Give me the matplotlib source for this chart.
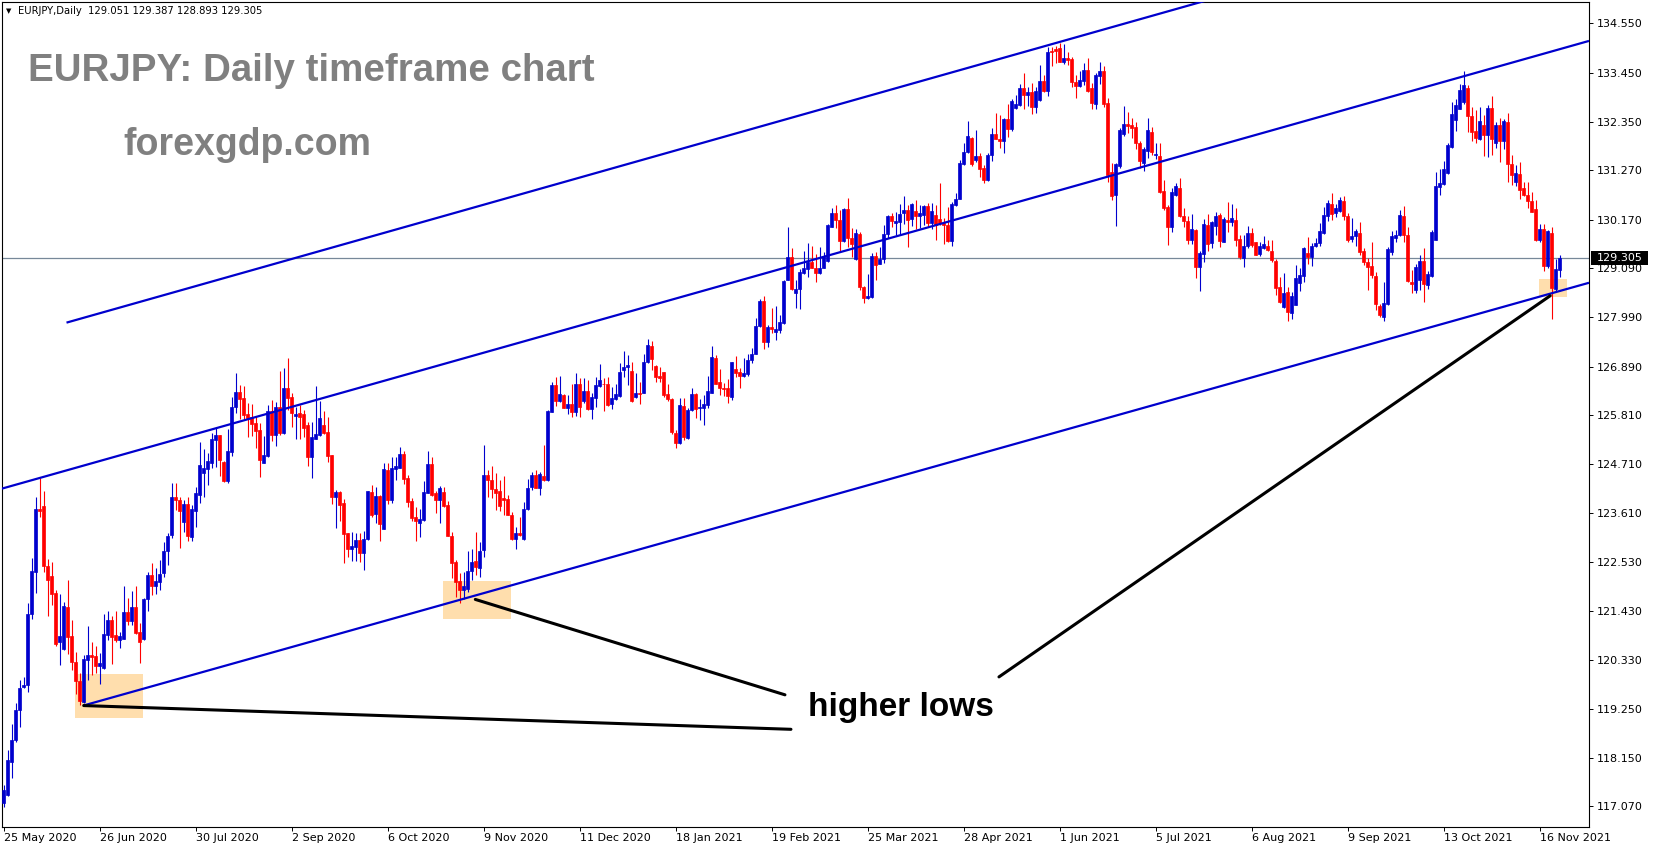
import matplotlib
matplotlib.use('Agg')
import matplotlib.pyplot as plt
import matplotlib.transforms as mtransforms
from matplotlib.patches import Rectangle
import numpy as np

# daily EURJPY bars, 25 May 2020 .. 23 Nov 2021
opens = [
    117.14, 117.33, 118.07, 118.55, 119.21, 119.73, 119.77, 121.36, 122.31, 123.72,
    123.78, 122.44, 122.21, 121.83, 120.73, 120.58, 121.51, 120.87, 120.30, 119.87,
    119.39, 120.34, 120.45, 120.43, 120.20, 120.17, 120.90, 121.23, 120.90, 120.79,
    120.81, 121.41, 121.20, 121.51, 120.96, 120.80, 121.69, 122.24, 121.99, 122.09,
    122.27, 122.76, 123.13, 123.98, 123.91, 123.42, 123.82, 123.09, 123.67, 124.02,
    124.52, 124.60, 124.74, 125.26, 125.36, 124.76, 124.34, 124.99, 125.98, 126.32,
    126.18, 125.83, 125.76, 125.62, 125.47, 124.74, 124.89, 125.90, 125.36, 125.98,
    125.41, 126.40, 126.20, 125.79, 125.86, 125.83, 125.58, 124.86, 125.28, 125.37,
    125.58, 125.42, 124.91, 123.98, 124.09, 123.84, 123.17, 122.82, 122.87, 123.02,
    122.72, 123.04, 124.08, 123.60, 123.99, 123.26, 124.58, 123.91, 124.60, 124.63,
    124.94, 124.39, 123.89, 123.52, 123.40, 123.46, 124.07, 124.71, 124.06, 123.91,
    124.08, 123.80, 123.11, 122.53, 122.11, 121.89, 121.92, 122.32, 122.55, 122.40,
    122.79, 124.47, 124.36, 124.16, 124.10, 123.96, 123.93, 123.57, 123.04, 123.18,
    123.04, 123.72, 124.21, 124.47, 124.18, 124.45, 124.36, 125.88, 126.48, 126.11,
    126.25, 125.97, 126.05, 125.88, 126.51, 126.13, 126.34, 125.94, 126.19, 126.46,
    126.51, 126.49, 126.05, 126.16, 126.24, 126.81, 126.88, 126.79, 126.22, 126.29,
    126.31, 127.00, 127.35, 126.90, 126.68, 126.76, 126.27, 126.16, 125.41, 125.18,
    126.01, 125.30, 125.92, 126.27, 125.96, 125.97, 126.03, 126.31, 127.09, 126.55,
    126.42, 126.40, 126.22, 126.83, 126.77, 126.68, 126.72, 127.03, 127.18, 127.80,
    128.35, 127.44, 127.78, 127.67, 127.70, 127.87, 128.83, 129.33, 128.54, 128.62,
    128.98, 129.06, 129.23, 129.10, 128.98, 129.10, 129.25, 130.01, 130.31, 130.17,
    129.70, 130.40, 129.77, 129.29, 129.86, 128.67, 128.41, 128.45, 129.36, 129.19,
    129.28, 129.86, 130.25, 130.10, 130.12, 130.31, 130.38, 130.18, 130.36, 130.26,
    130.27, 130.47, 130.09, 130.27, 130.18, 130.09, 130.06, 129.69, 130.49, 130.64,
    131.42, 131.67, 132.00, 131.50, 131.59, 131.33, 131.05, 131.61, 132.08, 131.98,
    131.92, 132.41, 132.19, 132.67, 132.73, 133.11, 132.95, 133.02, 132.69, 132.84,
    133.26, 133.04, 133.93, 133.99, 134.00, 133.69, 133.78, 133.75, 133.24, 133.16,
    133.26, 133.52, 133.11, 132.76, 133.38, 133.49, 132.77, 131.23, 130.72, 131.36,
    132.08, 132.30, 132.29, 132.23, 131.89, 131.43, 131.71, 132.12, 131.62, 131.58,
    130.80, 130.46, 130.00, 130.72, 130.87, 130.26, 130.14, 129.71, 129.94, 129.11,
    129.40, 130.06, 129.65, 130.03, 130.28, 129.68, 130.17, 130.11, 130.16, 129.74,
    129.32, 129.58, 129.88, 129.66, 129.41, 129.54, 129.58, 129.47, 129.24, 128.66,
    128.23, 128.56, 128.09, 128.26, 128.76, 128.92, 129.43, 129.34, 129.58, 129.65,
    129.88, 130.26, 130.52, 130.31, 130.36, 130.59, 130.26, 129.74, 129.80, 129.88,
    129.47, 129.23, 129.14, 128.92, 128.24, 128.00, 128.28, 129.45, 129.76, 129.82,
    130.25, 129.82, 128.78, 128.60, 128.82, 129.25, 128.71, 128.92, 129.71, 130.89,
    130.96, 131.20, 131.80, 132.39, 132.65, 132.80, 133.11, 132.49, 132.15, 131.98,
    132.29, 132.06, 132.67, 131.89, 132.29, 131.92, 132.35, 131.42, 131.01, 131.19,
    130.87, 130.72, 130.59, 130.40, 129.71, 129.97, 129.14, 129.88, 128.63, 129.051,
]
highs = [
    117.55, 118.33, 118.91, 119.37, 119.89, 119.95, 121.60, 122.62, 123.98, 124.41,
    124.11, 122.59, 122.53, 121.90, 121.81, 121.63, 122.12, 121.23, 120.51, 120.04,
    120.45, 121.10, 120.75, 120.64, 120.49, 121.37, 121.43, 121.32, 121.43, 120.96,
    121.98, 121.73, 121.88, 121.98, 121.16, 121.72, 122.31, 122.50, 122.40, 122.57,
    122.97, 123.18, 124.30, 124.28, 123.98, 123.91, 123.97, 123.80, 124.21, 125.21,
    125.04, 124.95, 125.40, 125.51, 125.37, 124.77, 125.49, 126.22, 126.75, 126.48,
    126.45, 126.08, 126.05, 125.78, 125.62, 125.34, 126.03, 126.14, 126.10, 126.79,
    126.85, 127.07, 126.31, 125.99, 126.02, 125.92, 125.65, 125.66, 126.45, 126.13,
    125.90, 125.76, 124.91, 124.13, 124.10, 123.93, 123.18, 123.20, 123.17, 123.17,
    123.22, 124.12, 124.25, 124.21, 124.02, 124.73, 124.73, 124.88, 124.88, 125.10,
    125.01, 124.47, 123.95, 123.76, 123.71, 124.34, 125.00, 124.86, 124.10, 124.23,
    124.21, 123.89, 123.20, 122.57, 122.27, 122.31, 122.77, 122.81, 123.19, 122.98,
    125.14, 124.58, 124.67, 124.52, 124.36, 124.45, 124.02, 123.65, 123.31, 123.52,
    123.87, 124.37, 124.54, 124.59, 124.53, 125.14, 125.92, 126.55, 126.66, 126.68,
    126.27, 126.25, 126.51, 126.74, 126.63, 126.63, 126.59, 126.29, 126.66, 126.95,
    126.64, 126.65, 126.44, 126.51, 126.96, 127.24, 127.15, 126.98, 126.74, 126.55,
    127.18, 127.50, 127.46, 126.92, 126.89, 126.77, 126.51, 126.18, 125.47, 126.18,
    126.19, 125.96, 126.42, 126.30, 126.16, 126.25, 126.68, 127.35, 127.15, 126.83,
    126.53, 126.62, 127.00, 127.12, 126.85, 127.07, 127.18, 127.30, 127.98, 128.39,
    128.46, 127.81, 128.20, 128.25, 128.05, 128.82, 130.00, 129.53, 128.82, 129.06,
    129.48, 129.64, 129.58, 129.41, 129.55, 129.45, 130.08, 130.42, 130.49, 130.38,
    130.42, 130.66, 129.99, 129.95, 129.90, 128.69, 128.95, 129.42, 129.45, 129.55,
    130.05, 130.27, 130.31, 130.35, 130.51, 130.69, 130.49, 130.53, 130.61, 130.50,
    130.50, 130.53, 130.53, 130.50, 130.99, 130.20, 130.46, 130.57, 130.77, 131.50,
    131.87, 132.37, 132.02, 132.17, 131.65, 131.39, 131.65, 132.21, 132.55, 132.50,
    132.43, 132.75, 132.86, 132.96, 133.19, 133.45, 133.14, 133.21, 133.14, 133.62,
    133.41, 134.03, 134.03, 134.05, 134.11, 134.09, 133.92, 133.79, 133.40, 133.49,
    133.66, 133.78, 133.22, 133.44, 133.70, 133.59, 132.88, 131.43, 131.43, 132.21,
    132.70, 132.58, 132.45, 132.36, 131.92, 131.80, 132.44, 132.24, 131.88, 131.88,
    131.06, 130.50, 130.87, 130.99, 131.10, 130.43, 130.24, 130.29, 129.96, 129.48,
    130.19, 130.29, 130.15, 130.35, 130.32, 130.22, 130.56, 130.52, 130.43, 129.82,
    129.82, 130.03, 129.99, 129.68, 129.68, 129.80, 129.71, 129.71, 129.30, 128.89,
    128.97, 128.67, 128.56, 129.15, 129.08, 129.56, 129.79, 129.64, 129.75, 130.09,
    130.46, 130.61, 130.77, 130.51, 130.67, 130.70, 130.31, 130.21, 129.97, 130.12,
    129.54, 129.32, 129.68, 129.01, 128.28, 128.77, 129.56, 129.91, 129.94, 130.38,
    130.47, 130.01, 129.04, 129.19, 129.39, 129.53, 129.02, 129.94, 131.24, 131.31,
    131.48, 131.87, 132.80, 132.87, 133.19, 133.48, 133.17, 132.69, 132.61, 132.69,
    132.50, 132.73, 132.93, 132.35, 132.44, 132.41, 132.56, 131.61, 131.39, 131.45,
    131.01, 131.01, 130.79, 130.61, 130.08, 130.08, 129.94, 130.01, 129.30, 129.387,
]
lows = [
    117.06, 117.29, 117.70, 118.50, 118.84, 119.71, 119.62, 121.25, 121.83, 123.52,
    122.31, 121.31, 121.57, 120.64, 120.23, 120.56, 120.47, 120.12, 119.57, 119.33,
    119.37, 119.88, 120.00, 120.04, 119.80, 120.13, 120.79, 120.25, 120.75, 120.60,
    120.80, 121.11, 121.11, 120.91, 120.26, 120.79, 121.43, 121.79, 121.80, 121.90,
    122.18, 122.46, 123.06, 123.69, 122.83, 123.20, 123.00, 123.00, 123.31, 123.84,
    123.98, 124.25, 124.62, 124.65, 124.45, 124.32, 124.30, 124.89, 125.86, 125.72,
    125.71, 125.32, 125.34, 125.08, 124.43, 124.73, 124.88, 125.23, 125.12, 125.37,
    125.38, 125.93, 125.53, 125.27, 125.27, 125.32, 124.67, 124.41, 125.27, 125.34,
    125.38, 124.75, 123.82, 123.28, 123.43, 122.51, 122.63, 122.55, 122.55, 122.53,
    122.35, 123.02, 123.54, 123.39, 122.99, 123.26, 123.82, 123.84, 124.36, 124.62,
    124.27, 123.76, 123.43, 122.99, 123.09, 123.45, 124.06, 123.99, 123.63, 123.40,
    123.76, 123.11, 122.17, 121.75, 121.60, 121.69, 121.86, 122.12, 122.24, 122.20,
    122.64, 123.98, 123.95, 123.69, 123.66, 123.57, 123.57, 123.02, 122.81, 123.11,
    123.02, 123.69, 124.13, 124.17, 124.02, 124.33, 124.33, 125.88, 126.00, 126.09,
    125.96, 125.84, 125.77, 125.78, 125.77, 126.07, 125.92, 125.71, 125.99, 126.44,
    125.90, 126.01, 125.94, 126.14, 126.22, 126.66, 126.48, 126.09, 126.18, 126.05,
    126.30, 126.97, 126.81, 126.55, 126.55, 126.22, 126.12, 125.38, 125.08, 125.15,
    125.25, 125.27, 125.90, 125.73, 125.70, 125.58, 125.96, 126.29, 126.50, 126.25,
    126.23, 126.08, 126.14, 126.66, 126.42, 126.65, 126.68, 126.97, 127.17, 127.78,
    127.29, 127.33, 127.63, 127.48, 127.64, 127.85, 128.82, 128.60, 128.20, 128.18,
    128.95, 128.89, 129.08, 128.77, 128.95, 129.08, 129.23, 130.01, 129.99, 129.47,
    129.68, 129.56, 129.33, 129.27, 128.60, 128.30, 128.40, 128.43, 128.82, 129.18,
    129.21, 129.75, 130.01, 129.82, 129.84, 130.08, 129.56, 130.03, 129.97, 129.99,
    130.05, 130.01, 129.97, 129.71, 130.05, 129.62, 129.66, 129.59, 130.48, 130.63,
    131.39, 131.65, 131.37, 131.46, 131.13, 130.98, 131.03, 131.48, 131.96, 131.77,
    131.65, 132.02, 132.15, 132.65, 132.71, 132.63, 132.71, 132.52, 132.54, 132.82,
    133.02, 132.93, 133.60, 133.66, 133.68, 133.64, 133.63, 133.13, 132.88, 133.12,
    133.18, 133.03, 132.64, 132.64, 133.20, 132.68, 131.02, 130.60, 130.02, 131.32,
    132.03, 132.10, 131.99, 131.75, 131.32, 131.26, 131.54, 131.62, 131.53, 130.76,
    130.39, 129.61, 129.89, 130.70, 130.22, 130.00, 129.62, 129.62, 128.86, 128.57,
    129.22, 129.48, 129.54, 129.83, 129.55, 129.67, 129.89, 130.02, 129.59, 129.30,
    129.12, 129.53, 129.56, 129.38, 129.36, 129.51, 129.47, 129.23, 128.49, 128.30,
    128.20, 127.91, 127.94, 128.26, 128.57, 128.77, 129.19, 129.14, 129.56, 129.59,
    129.86, 130.14, 130.16, 130.23, 130.33, 130.17, 129.68, 129.68, 129.59, 129.38,
    129.15, 128.60, 128.86, 128.15, 128.00, 127.91, 128.26, 129.38, 129.66, 129.80,
    129.68, 128.78, 128.54, 128.54, 128.60, 128.32, 128.63, 128.89, 129.71, 130.72,
    130.94, 131.19, 131.77, 132.15, 132.63, 132.76, 132.13, 131.92, 131.87, 131.95,
    131.59, 131.56, 131.62, 131.77, 131.46, 131.74, 131.01, 130.94, 130.92, 130.64,
    130.70, 130.43, 130.33, 129.69, 129.68, 129.02, 129.08, 127.96, 128.57, 128.893,
]
closes = [
    117.44, 118.11, 118.55, 119.22, 119.71, 119.78, 121.37, 122.33, 123.72, 123.67,
    122.44, 122.13, 121.81, 120.70, 120.87, 121.54, 120.86, 120.30, 119.86, 119.43,
    120.35, 120.44, 120.41, 120.20, 120.28, 120.92, 121.23, 120.86, 120.79, 120.87,
    121.40, 121.20, 121.53, 120.95, 120.75, 121.69, 122.24, 121.99, 122.10, 122.26,
    122.77, 123.11, 123.98, 123.90, 123.67, 123.82, 123.11, 123.71, 124.06, 124.69,
    124.62, 124.78, 125.27, 125.36, 124.80, 124.34, 125.00, 125.98, 126.32, 126.16,
    125.81, 125.73, 125.60, 125.46, 124.80, 124.91, 125.90, 125.36, 125.98, 125.41,
    126.40, 126.19, 125.86, 125.84, 125.76, 125.51, 124.86, 125.31, 125.38, 125.73,
    125.41, 124.90, 123.98, 124.09, 123.80, 123.15, 122.82, 122.88, 123.02, 122.73,
    123.04, 124.10, 123.58, 123.99, 123.37, 124.60, 123.92, 124.63, 124.67, 124.94,
    124.38, 123.86, 123.50, 123.43, 123.49, 124.08, 124.71, 124.02, 123.91, 124.17,
    123.78, 123.11, 122.51, 122.09, 121.89, 121.99, 122.32, 122.53, 122.42, 122.76,
    124.47, 124.36, 124.15, 124.07, 123.78, 123.91, 123.57, 123.04, 123.18, 123.13,
    123.72, 124.17, 124.47, 124.18, 124.49, 124.36, 125.90, 126.48, 126.11, 126.27,
    125.97, 126.05, 125.88, 126.51, 125.99, 126.34, 125.94, 126.22, 126.48, 126.59,
    126.49, 126.03, 126.18, 126.27, 126.76, 126.89, 126.92, 126.12, 126.29, 126.27,
    126.98, 127.37, 127.06, 126.66, 126.64, 126.25, 126.16, 125.42, 125.19, 126.03,
    125.32, 125.92, 126.27, 125.94, 125.99, 126.05, 126.34, 127.11, 126.51, 126.42,
    126.39, 126.24, 127.00, 126.75, 126.68, 126.75, 127.03, 127.17, 127.80, 128.36,
    127.44, 127.78, 127.73, 127.72, 127.89, 128.80, 129.33, 128.63, 128.62, 129.01,
    129.08, 129.23, 129.10, 128.98, 129.10, 129.36, 130.05, 130.31, 130.17, 129.70,
    130.40, 129.77, 129.62, 129.88, 128.67, 128.43, 128.46, 129.36, 129.16, 129.29,
    129.86, 130.25, 130.14, 130.14, 130.29, 130.38, 130.17, 130.51, 130.25, 130.31,
    130.47, 130.10, 130.36, 130.06, 130.09, 130.05, 129.69, 130.52, 130.64, 131.44,
    131.67, 132.04, 131.41, 131.59, 131.31, 131.05, 131.61, 132.08, 131.98, 131.92,
    132.41, 132.19, 132.82, 132.75, 133.11, 132.96, 133.02, 132.69, 133.04, 133.26,
    133.04, 133.92, 133.92, 133.94, 133.69, 133.78, 133.74, 133.24, 133.16, 133.28,
    133.52, 133.05, 132.77, 133.40, 133.48, 132.75, 131.17, 130.70, 131.41, 132.18,
    132.30, 132.25, 132.21, 131.88, 131.47, 131.75, 132.18, 131.69, 131.64, 130.78,
    130.43, 130.00, 130.78, 130.91, 130.24, 130.14, 129.71, 129.97, 129.11, 129.42,
    130.07, 129.63, 130.12, 130.26, 129.70, 130.18, 130.11, 130.20, 129.71, 129.34,
    129.58, 129.88, 129.60, 129.39, 129.58, 129.62, 129.49, 129.27, 128.65, 128.34,
    128.54, 128.11, 128.47, 128.87, 128.93, 129.54, 129.34, 129.58, 129.65, 129.91,
    130.27, 130.55, 130.29, 130.42, 130.61, 130.26, 129.71, 129.80, 129.91, 129.45,
    129.23, 129.12, 128.93, 128.28, 128.04, 128.31, 129.51, 129.80, 129.82, 130.27,
    129.82, 128.80, 128.73, 129.12, 129.25, 128.73, 128.95, 129.90, 130.92, 130.99,
    131.31, 131.83, 132.53, 132.73, 133.06, 133.17, 132.49, 132.13, 132.00, 132.37,
    132.06, 132.67, 131.97, 132.29, 131.92, 132.37, 131.42, 131.16, 131.20, 130.84,
    130.72, 130.59, 130.35, 129.71, 129.97, 129.14, 129.92, 128.65, 129.06, 129.305,
]

date_labels = ['25 May 2020', '26 Jun 2020', '30 Jul 2020', '2 Sep 2020', '6 Oct 2020',
               '9 Nov 2020', '11 Dec 2020', '18 Jan 2021', '19 Feb 2021', '25 Mar 2021',
               '28 Apr 2021', '1 Jun 2021', '5 Jul 2021', '6 Aug 2021', '9 Sep 2021',
               '13 Oct 2021', '16 Nov 2021']
bars_per_label = 24
price_ticks = [117.07, 118.15, 119.25, 120.33, 121.43, 122.53, 123.61, 124.71, 125.81,
               126.89, 127.99, 129.09, 130.17, 131.27, 132.35, 133.45, 134.55]
last_price = 129.305
header = 'EURJPY,Daily  129.051 129.387 128.893 129.305'

# drawn objects, anchored as (bar index, price)
channel_upper = ([15.7, 396.0], [127.87, 137.47])
channel_mid = ([-1.0, 396.3], [124.15, 134.16])
channel_low = ([19.9, 396.3], [119.32, 128.76])
pointer_1 = ([20.0, 196.8], [119.32, 118.79])
pointer_2 = ([117.9, 195.3], [121.69, 119.56])
pointer_3 = ([248.8, 386.6], [119.96, 128.47])
zones = [(17.8, 34.75, 119.05, 120.02),
         (109.8, 126.75, 121.25, 122.11),
         (383.8, 390.8, 128.45, 128.84)]

W, H = 1653, 850
AX_L, AX_R = 2.3, 1589.0
BULL = '#0000CD'
BEAR = '#FF0000'

fig = plt.figure(figsize=(W / 100, H / 100), dpi=100)
fig.patch.set_facecolor('white')
ax = fig.add_axes([AX_L / W, (H - 826.5) / H, (AX_R - AX_L) / W, (826.5 - 1.5) / H])

o = np.array(opens)
h = np.array(highs)
l = np.array(lows)
c = np.array(closes)
x = np.arange(len(o))
up = c >= o
cols = np.where(up, BULL, BEAR)

for x0, x1, p0, p1 in zones:
    ax.add_patch(Rectangle((x0, p0), x1 - x0, p1 - p0, facecolor='#FFDEAD',
                           edgecolor='none', zorder=1))

ax.axhline(last_price, color='#778899', lw=0.9, zorder=1.5)

ax.vlines(x, l, h, colors=cols, lw=0.8, zorder=2)
ax.bar(x, np.abs(c - o), bottom=np.minimum(o, c), width=0.72, color=cols,
       edgecolor=cols, linewidth=0.5, zorder=3)

for xs, ys in (channel_upper, channel_mid, channel_low):
    ax.plot(xs, ys, color=BULL, lw=1.6, zorder=4, solid_capstyle='butt')
for xs, ys in (pointer_1, pointer_2, pointer_3):
    ax.plot(xs, ys, color='black', lw=2.2, zorder=4, solid_capstyle='round')

ax.set_xlim(-0.35, 396.3)
ax.set_ylim(116.62, 135.04)

ax.yaxis.tick_right()
ax.set_yticks(price_ticks)
ax.set_yticklabels(['%.3f' % p for p in price_ticks])
ax.set_xticks(np.arange(len(date_labels)) * bars_per_label)
ax.set_xticklabels(date_labels)
for lbl in ax.get_xticklabels():
    lbl.set_horizontalalignment('left')
ax.tick_params(axis='y', direction='out', length=3.2, width=0.7, pad=2.2,
               labelsize=8, colors='black')
ax.tick_params(axis='x', direction='out', length=3.2, width=0.7, pad=1.5,
               labelsize=8, colors='black')
for sp in ax.spines.values():
    sp.set_color('black')
    sp.set_linewidth(0.8)

# current price box on the price scale
trans = mtransforms.blended_transform_factory(ax.transAxes, ax.transData)
span = AX_R - AX_L
box_h = 14 / (826.5 - 1.5) * (135.04 - 116.62)
ax.add_patch(Rectangle((1.0 + 2 / span, last_price - box_h / 2), 57 / span, box_h,
                       transform=trans, facecolor='black', edgecolor='none',
                       clip_on=False, zorder=10))
ax.text(1.0 + 8 / span, last_price, '129.305', transform=trans, ha='left',
        va='center', fontsize=8, color='white', zorder=11, clip_on=False)

# header and captions
fig.text(6 / W, 1 - 11 / H, '\u25BC', fontsize=5, color='black', va='center', ha='left')
fig.text(18 / W, 1 - 11 / H, header, fontsize=7.2, color='black', va='center', ha='left')
fig.text(28.5 / W, 1 - 81 / H, 'EURJPY: Daily timeframe chart', fontsize=27.7,
         family=['Liberation Sans', 'DejaVu Sans'], weight='bold', color='#808080',
         va='baseline', ha='left')
fig.text(123 / W, 1 - 155 / H, 'forexgdp.com', fontsize=27,
         family=['Liberation Sans', 'DejaVu Sans'], weight='bold', color='#808080',
         va='baseline', ha='left')
fig.text(808 / W, 1 - 716 / H, 'higher lows', fontsize=24,
         family=['Liberation Sans', 'DejaVu Sans'], weight='bold', color='black',
         va='baseline', ha='left')

fig.savefig('out.png', dpi=100, facecolor='white')
